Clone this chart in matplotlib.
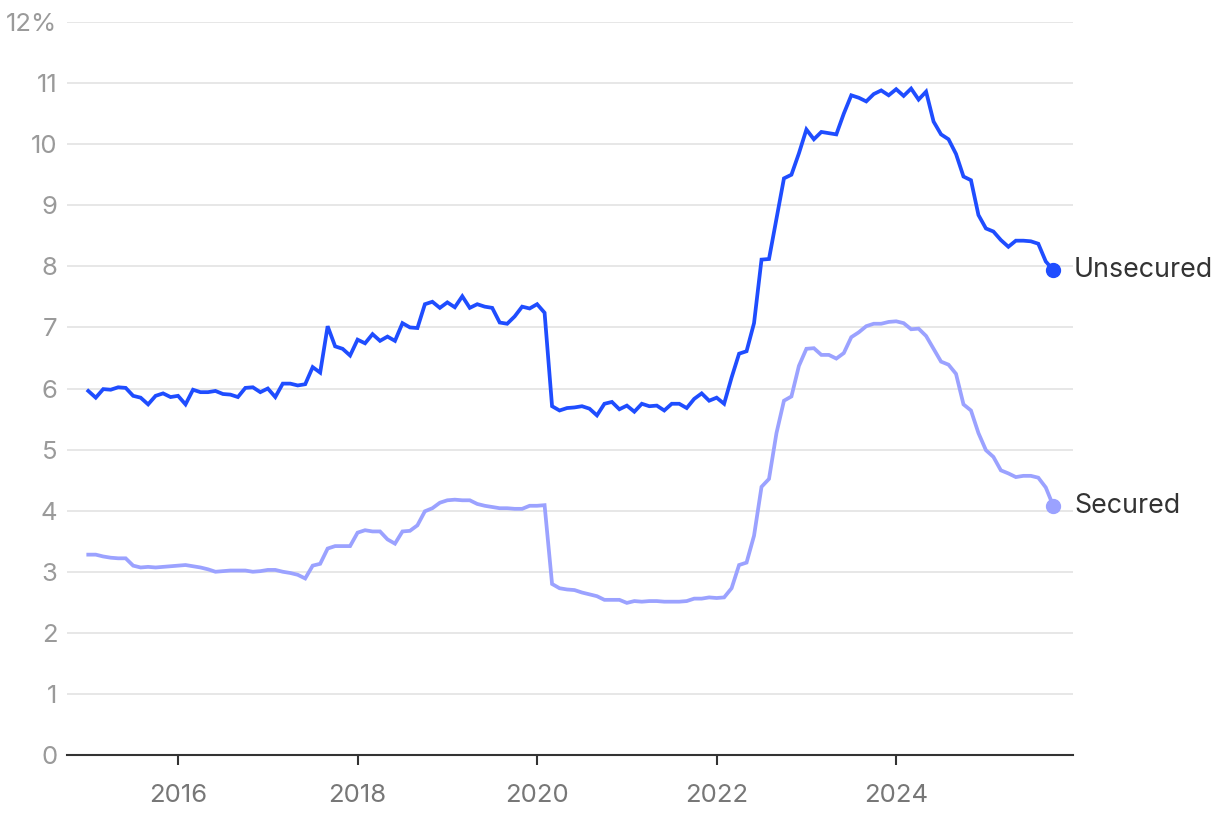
import matplotlib
matplotlib.use("Agg")
import matplotlib.pyplot as plt
import numpy as np

start_year = 2015  # monthly data from Jan 2015
unsecured = [
    5.96, 5.85, 5.99, 5.98, 6.02, 6.01, 5.88, 5.85, 5.74, 5.88, 5.92, 5.86,
    5.88, 5.74, 5.98, 5.94, 5.94, 5.96, 5.91, 5.90, 5.86, 6.01, 6.02, 5.94,
    6.00, 5.86, 6.08, 6.08, 6.05, 6.07, 6.35, 6.26, 7.02, 6.69, 6.65, 6.54,
    6.80, 6.74, 6.89, 6.78, 6.85, 6.78, 7.07, 7.00, 6.99, 7.38, 7.42, 7.32,
    7.41, 7.33, 7.51, 7.32, 7.38, 7.34, 7.32, 7.08, 7.06, 7.18, 7.34, 7.31,
    7.38, 7.24, 5.71, 5.64, 5.68, 5.69, 5.71, 5.67, 5.56, 5.75, 5.78, 5.66,
    5.72, 5.62, 5.75, 5.71, 5.72, 5.64, 5.75, 5.75, 5.68, 5.83, 5.92, 5.80,
    5.85, 5.75, 6.18, 6.57, 6.61, 7.07, 8.11, 8.12, 8.78, 9.44, 9.50, 9.85,
    10.24, 10.08, 10.20, 10.18, 10.16, 10.50, 10.80, 10.76, 10.70, 10.82, 10.88, 10.80,
    10.90, 10.79, 10.91, 10.73, 10.86, 10.37, 10.16, 10.08, 9.84, 9.47, 9.41, 8.84,
    8.62, 8.57, 8.43, 8.32, 8.42, 8.42, 8.41, 8.37, 8.08, 7.94,
]
secured = [
    3.28, 3.28, 3.25, 3.23, 3.22, 3.22, 3.10, 3.07, 3.08, 3.07, 3.08, 3.09,
    3.10, 3.11, 3.09, 3.07, 3.04, 3.00, 3.01, 3.02, 3.02, 3.02, 3.00, 3.01,
    3.03, 3.03, 3.00, 2.98, 2.95, 2.89, 3.10, 3.13, 3.38, 3.42, 3.42, 3.42,
    3.64, 3.68, 3.66, 3.66, 3.53, 3.46, 3.66, 3.67, 3.76, 3.99, 4.04, 4.13,
    4.17, 4.18, 4.17, 4.17, 4.11, 4.08, 4.06, 4.04, 4.04, 4.03, 4.03, 4.08,
    4.08, 4.09, 2.80, 2.73, 2.71, 2.70, 2.66, 2.63, 2.60, 2.54, 2.54, 2.54,
    2.49, 2.52, 2.51, 2.52, 2.52, 2.51, 2.51, 2.51, 2.52, 2.56, 2.56, 2.58,
    2.57, 2.58, 2.73, 3.11, 3.15, 3.59, 4.39, 4.52, 5.27, 5.80, 5.87, 6.37,
    6.65, 6.66, 6.55, 6.55, 6.49, 6.58, 6.84, 6.92, 7.02, 7.06, 7.06, 7.09,
    7.10, 7.07, 6.97, 6.98, 6.86, 6.65, 6.44, 6.39, 6.24, 5.74, 5.64, 5.27,
    4.99, 4.88, 4.66, 4.61, 4.55, 4.57, 4.57, 4.54, 4.38, 4.08,
]
series_names = ["Unsecured", "Secured"]
series_colors = ["#1f4dff", "#9ba2ff"]
x_ticks = [2016, 2018, 2020, 2022, 2024]
y_ticks = list(range(0, 13))
y_tick_labels = [str(v) for v in y_ticks[:-1]] + ["12%"]

plt.rcParams['font.family'] = ['Inter', 'DejaVu Sans']

fig = plt.figure(figsize=(12.2, 8.16), dpi=100)
ax = fig.add_axes([67/1220, 1 - 755/816, (1073-67)/1220, (755-22)/816])

n = len(unsecured)
x = start_year + np.arange(n) / 12.0

for vals, name, col in zip([unsecured, secured], series_names, series_colors):
    ax.plot(x, vals, color=col, lw=2.7, solid_joinstyle='miter', zorder=3, clip_on=False)
    ax.plot([x[-1]], [vals[-1]], 'o', color=col, ms=10, zorder=4, clip_on=False)
    ax.annotate(name, xy=(x[-1], vals[-1]), xytext=(15, 0), textcoords='offset points',
                va='center', ha='left', fontsize=19.3, color='#333333', annotation_clip=False)

ax.set_xlim(2015 - 0.237, 2025.97)
ax.set_ylim(0, 12)
ax.set_yticks(y_ticks)
ax.set_yticklabels(y_tick_labels)
ax.set_xticks(x_ticks)
ax.set_xticklabels([str(t) for t in x_ticks])

for v in y_ticks[1:]:
    ax.axhline(v, color='#e3e3e3', lw=1.2, zorder=1)

for s in ['top', 'right', 'left']:
    ax.spines[s].set_visible(False)
ax.spines['bottom'].set_color('#333333')
ax.spines['bottom'].set_linewidth(1.5)
ax.tick_params(axis='y', length=0, pad=7, labelsize=18.5, labelcolor='#9a9a9a')
ax.tick_params(axis='x', length=7, width=1.5, color='#333333', pad=14,
               labelsize=18.5, labelcolor='#777777', direction='out')

fig.savefig("out.png", dpi=100, facecolor='white')
